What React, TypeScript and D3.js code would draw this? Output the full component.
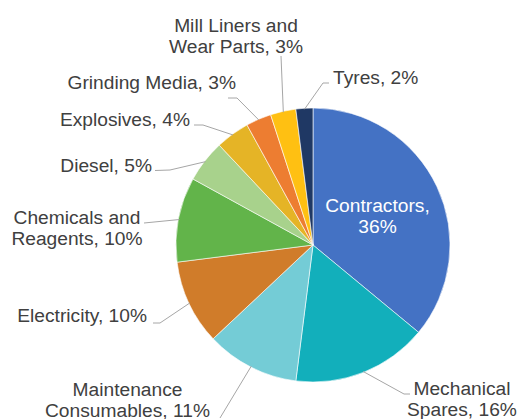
import React from "react";
import * as d3 from "d3";

const categories = [
  "Contractors",
  "Mechanical Spares",
  "Maintenance Consumables",
  "Electricity",
  "Chemicals and Reagents",
  "Diesel",
  "Explosives",
  "Grinding Media",
  "Mill Liners and Wear Parts",
  "Tyres",
];
const values = [36, 16, 11, 10, 10, 5, 4, 3, 3, 2];
const labelLines = [
  ["Contractors,", "36%"],
  ["Mechanical", "Spares, 16%"],
  ["Maintenance", "Consumables, 11%"],
  ["Electricity, 10%"],
  ["Chemicals and", "Reagents, 10%"],
  ["Diesel, 5%"],
  ["Explosives, 4%"],
  ["Grinding Media, 3%"],
  ["Mill Liners and", "Wear Parts, 3%"],
  ["Tyres, 2%"],
];
const colors = [
  "#4472C4",
  "#12AFBB",
  "#74CCD6",
  "#D07C2A",
  "#62B44A",
  "#A8D28C",
  "#E5B426",
  "#ED7D31",
  "#FFC012",
  "#1F3864",
];

// label layout: text anchor point (first baseline), anchor, leader elbow/end
type Lay = { x: number; y: number; anchor: string; pts: [number, number][] | null; fill: string };
const layout: Lay[] = [
  { x: 377.5, y: 211.5, anchor: "middle", pts: null, fill: "#FFFFFF" },
  { x: 462, y: 395, anchor: "middle", pts: [[404, 394], [410, 394]], fill: "#404040" },
  { x: 127.5, y: 396, anchor: "middle", pts: [[220, 418]], fill: "#404040" },
  { x: 147, y: 322, anchor: "end", pts: [[160, 323], [153, 323]], fill: "#404040" },
  { x: 77, y: 223.5, anchor: "middle", pts: [[144, 223]], fill: "#404040" },
  { x: 152, y: 172, anchor: "end", pts: [[170, 170], [155, 170.5]], fill: "#404040" },
  { x: 190, y: 126, anchor: "end", pts: [[203, 125], [194, 125]], fill: "#404040" },
  { x: 236, y: 88.5, anchor: "end", pts: [[237, 98], [228, 98]], fill: "#404040" },
  { x: 236, y: 31.5, anchor: "middle", pts: [[281, 56]], fill: "#404040" },
  { x: 333, y: 84, anchor: "start", pts: [[323, 83], [329, 83]], fill: "#404040" },
];

const W = 518;
const H = 419;
const cx = 313;
const cy = 245;
const R = 137;
const FONT = 19.2;
const LINE = 21.3;

export default function App() {
  const pie = d3.pie<number>().sort(null).value((d) => d);
  const arcs = pie(values);
  const arc = d3.arc<d3.PieArcDatum<number>>().innerRadius(0).outerRadius(R);
  const edge = d3.arc<d3.PieArcDatum<number>>().innerRadius(R - 1).outerRadius(R - 1);

  return (
    <svg
      width={W}
      height={H}
      style={{ position: "absolute", left: 0, top: 0, background: "#fff" }}
      fontFamily="'Liberation Sans', Arial, sans-serif"
    >
      <g transform={`translate(${cx},${cy})`}>
        {arcs.map((a, i) => (
          <path key={categories[i]} d={arc(a) || ""} fill={colors[i]} stroke="#fff" strokeWidth={0.6} />
        ))}
      </g>
      {arcs.map((a, i) => {
        const L = layout[i];
        if (!L.pts) return null;
        const c = edge.centroid(a);
        const pts: [number, number][] = [[cx + c[0], cy + c[1]], ...L.pts];
        return (
          <polyline
            key={"l" + i}
            points={pts.map((p) => p.join(",")).join(" ")}
            fill="none"
            stroke="#A6A6A6"
            strokeWidth={1}
          />
        );
      })}
      {labelLines.map((lines, i) => {
        const L = layout[i];
        return (
          <text key={"t" + i} x={L.x} y={L.y} textAnchor={L.anchor} fontSize={FONT} fill={L.fill}>
            {lines.map((s, j) => (
              <tspan key={j} x={L.x} y={L.y + j * LINE}>
                {s}
              </tspan>
            ))}
          </text>
        );
      })}
    </svg>
  );
}
